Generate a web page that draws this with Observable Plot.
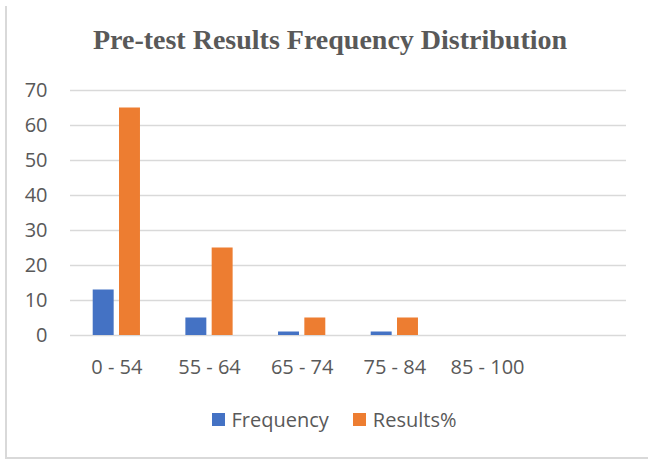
<!DOCTYPE html>
<html><head><meta charset="utf-8">
<script src="https://cdn.jsdelivr.net/npm/d3@7"></script>
<script src="https://cdn.jsdelivr.net/npm/@observablehq/plot@0.6"></script>
<style>
body{margin:0;width:648px;height:459px;overflow:hidden;background:#fff;font-family:"Open Sans",sans-serif;color:#595959;}
#frame{position:absolute;left:5px;top:6px;width:643px;height:453px;border-left:2px solid #d9d9d9;border-bottom:2px solid #d9d9d9;box-sizing:border-box;}
#title{position:absolute;left:0;width:660px;top:24px;text-align:center;font:bold 28px "Liberation Serif",serif;color:#595959;white-space:nowrap;}
#chart{position:absolute;left:0;top:70px;}
#legend{position:absolute;left:0;top:406px;width:668px;display:flex;justify-content:center;align-items:center;font-size:20px;color:#595959;}
.item{display:flex;align-items:center;margin:0 12px;}
.sw{width:13px;height:13px;margin-right:7px;}
</style>
</head><body>
<div id="frame"></div>
<div id="title">Pre-test Results Frequency Distribution</div>
<div id="chart"></div>
<div id="legend"></div>
<script>
const categories = ["0 - 54", "55 - 64", "65 - 74", "75 - 84", "85 - 100", " "];
const frequency = [13, 5, 1, 1, 0];
const results = [65, 25, 5, 5, 0];
const yTicks = [0, 10, 20, 30, 40, 50, 60, 70];
const seriesNames = ["Frequency", "Results%"];
const seriesColors = ["#4472c4", "#ed7d31"];

const freqData = frequency.map((v, i) => ({category: categories[i], value: v}));
const resData = results.map((v, i) => ({category: categories[i], value: v}));

const chart = Plot.plot({
  width: 648,
  height: 320,
  marginLeft: 70,
  marginRight: 22,
  marginTop: 20,
  marginBottom: 55,
  style: {fontSize: "20px", fontFamily: "'Open Sans', sans-serif", color: "#595959", background: "transparent"},
  x: {type: "band", domain: categories, paddingInner: 0.49, paddingOuter: 0.245, round: false, label: null, tickSize: 0, tickPadding: 24},
  y: {domain: [0, 70], ticks: yTicks, label: null, tickSize: 0, tickPadding: 23},
  marks: [
    Plot.ruleY(yTicks, {stroke: "#d9d9d9", strokeWidth: 1.5}),
    Plot.barY(freqData, {x: "category", y: "value", fill: seriesColors[0], insetRight: 26.3}),
    Plot.barY(resData, {x: "category", y: "value", fill: seriesColors[1], insetLeft: 26.3})
  ]
});
document.getElementById("chart").appendChild(chart);

const legend = document.getElementById("legend");
seriesNames.forEach((name, i) => {
  const it = document.createElement("div");
  it.className = "item";
  const sw = document.createElement("div");
  sw.className = "sw";
  sw.style.background = seriesColors[i];
  const t = document.createElement("span");
  t.textContent = name;
  it.appendChild(sw); it.appendChild(t);
  legend.appendChild(it);
});
</script>
</body></html>
